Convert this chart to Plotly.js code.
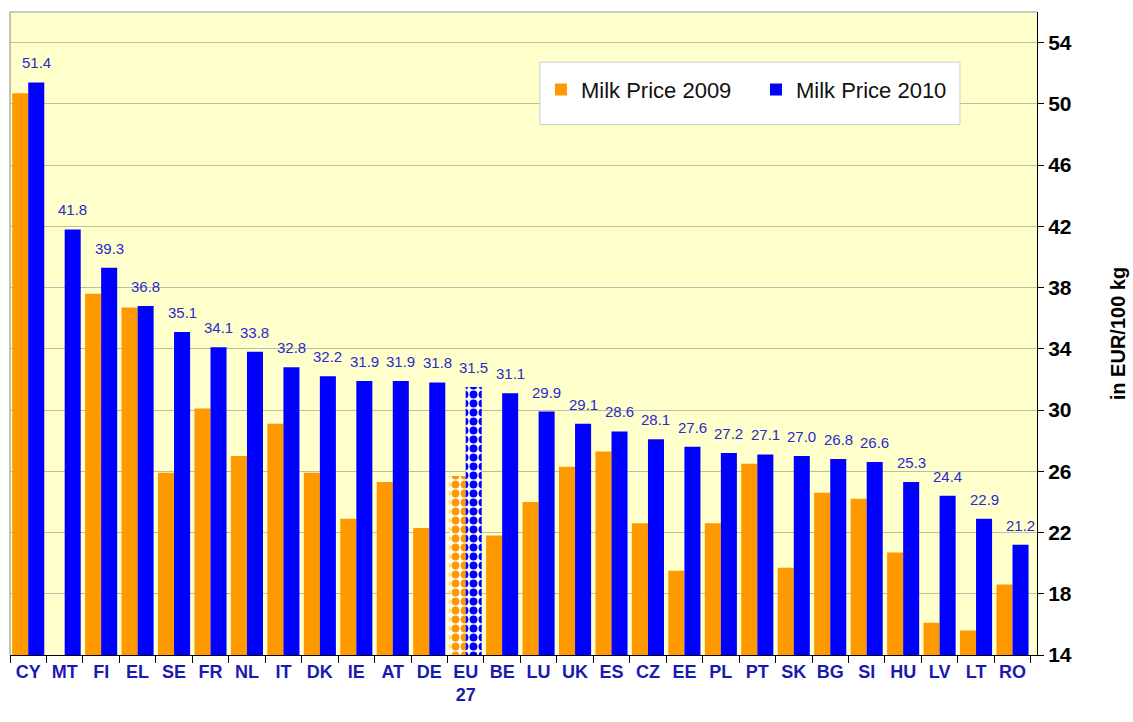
<!DOCTYPE html>
<html>
<head>
<meta charset="utf-8">
<script src="https://cdn.plot.ly/plotly-3.0.1.min.js"></script>
<style>html,body{margin:0;padding:0;background:#fff;}#chart{width:1133px;height:722px;}</style>
</head>
<body>
<div id="chart"></div>
<script>
var categories = ["CY","MT","FI","EL","SE","FR","NL","IT","DK","IE","AT","DE","EU<br>27","BE","LU","UK","ES","CZ","EE","PL","PT","SK","BG","SI","HU","LV","LT","RO"];
var price2009 = [50.7,null,37.6,36.7,25.9,30.1,27.0,29.1,25.9,22.9,25.3,22.3,25.7,21.8,24.0,26.3,27.3,22.6,19.5,22.6,26.5,19.7,24.6,24.2,20.7,16.1,15.6,18.6];
var price2010 = [51.4,41.8,39.3,36.8,35.1,34.1,33.8,32.8,32.2,31.9,31.9,31.8,31.5,31.1,29.9,29.1,28.6,28.1,27.6,27.2,27.1,27.0,26.8,26.6,25.3,24.4,22.9,21.2];
var labels2010 = ["51.4","41.8","39.3","36.8","35.1","34.1","33.8","32.8","32.2","31.9","31.9","31.8","31.5","31.1","29.9","29.1","28.6","28.1","27.6","27.2","27.1","27.0","26.8","26.6","25.3","24.4","22.9","21.2"];
var seriesNames = ["Milk Price 2009","Milk Price 2010"];
var yTicks = [14,18,22,26,30,34,38,42,46,50,54];

var patternIdx = categories.indexOf("EU<br>27");
function patShapes(){ return categories.map(function(c,i){ return i===patternIdx ? "." : ""; }); }

var trace2009 = {
  type: "bar", name: seriesNames[0], x: categories, y: price2009,
  marker: {color: "#FF9900", line: {width: 0},
    pattern: {shape: patShapes(), fgcolor: "#FF9900", bgcolor: "#FFFFFF", size: 9, solidity: 0.6, fillmode: "replace"}},
  hoverinfo: "x+y"
};
var trace2010 = {
  type: "bar", name: seriesNames[1], x: categories, y: price2010,
  marker: {color: "#0000FF", line: {width: 0},
    pattern: {shape: patShapes(), fgcolor: "#0000FF", bgcolor: "#FFFFFF", size: 9, solidity: 0.6, fillmode: "replace"}},
  hoverinfo: "x+y"
};

var valueLabels = categories.map(function(c, i){
  return {x: c, y: price2010[i], text: labels2010[i], xref: "x", yref: "y",
    showarrow: false, yanchor: "bottom", xanchor: "center", xshift: 8, yshift: 9,
    font: {family: "Liberation Sans, Arial, sans-serif", size: 15, color: "#2A2ACC"}};
});

var layout = {
  width: 1133, height: 722,
  margin: {l: 10, r: 96, t: 12, b: 67},
  paper_bgcolor: "#FFFFFF",
  plot_bgcolor: "#FFFFCC",
  barmode: "group", bargap: 0.12, bargroupgap: 0,
  showlegend: true,
  legend: {orientation: "h", x: 0.517, y: 0.912, xanchor: "left", yanchor: "top",
    bgcolor: "rgba(0,0,0,0)", borderwidth: 0,
    font: {family: "Liberation Sans, Arial, sans-serif", size: 22, color: "#111111"},
    itemsizing: "constant", traceorder: "normal", itemwidth: 30, entrywidth: 170, entrywidthmode: "pixels"},
  xaxis: {
    type: "category", tickson: "boundaries", ticks: "outside", ticklen: 7, tickcolor: "#000",
    showline: true, linecolor: "#000", linewidth: 1,
    tickfont: {family: "Liberation Sans, Arial, sans-serif", size: 18, color: "#1A1AB0", weight: "bold"},
    showgrid: false, fixedrange: true
  },
  yaxis: {
    side: "right", range: [14, 56], tickvals: yTicks, ticktext: yTicks.map(String),
    ticks: "outside", ticklen: 6, tickcolor: "#000",
    showline: true, linecolor: "#000", linewidth: 1,
    showgrid: true, gridcolor: "#BDBDA8", gridwidth: 1,
    tickfont: {family: "Liberation Sans, Arial, sans-serif", size: 21, color: "#000", weight: "bold"},
    title: {text: "in EUR/100 kg", font: {family: "Liberation Sans, Arial, sans-serif", size: 20, color: "#000", weight: "bold"}, standoff: 40},
    zeroline: false, fixedrange: true
  },
  annotations: valueLabels,
  shapes: [
    {type: "rect", xref: "paper", yref: "paper", x0: 0.516, x1: 0.925, y0: 0.825, y1: 0.922,
      fillcolor: "#FFFFFF", line: {color: "#CCCCCC", width: 1}, layer: "above"},
    {type: "line", xref: "paper", yref: "paper", x0: 0, x1: 1, y0: 1, y1: 1, line: {color: "#999999", width: 1}},
    {type: "line", xref: "paper", yref: "paper", x0: 0, x1: 0, y0: 0, y1: 1, line: {color: "#888888", width: 1}}
  ]
};

Plotly.newPlot("chart", [trace2009, trace2010], layout, {displayModeBar: false, staticPlot: true});
</script>
</body>
</html>
